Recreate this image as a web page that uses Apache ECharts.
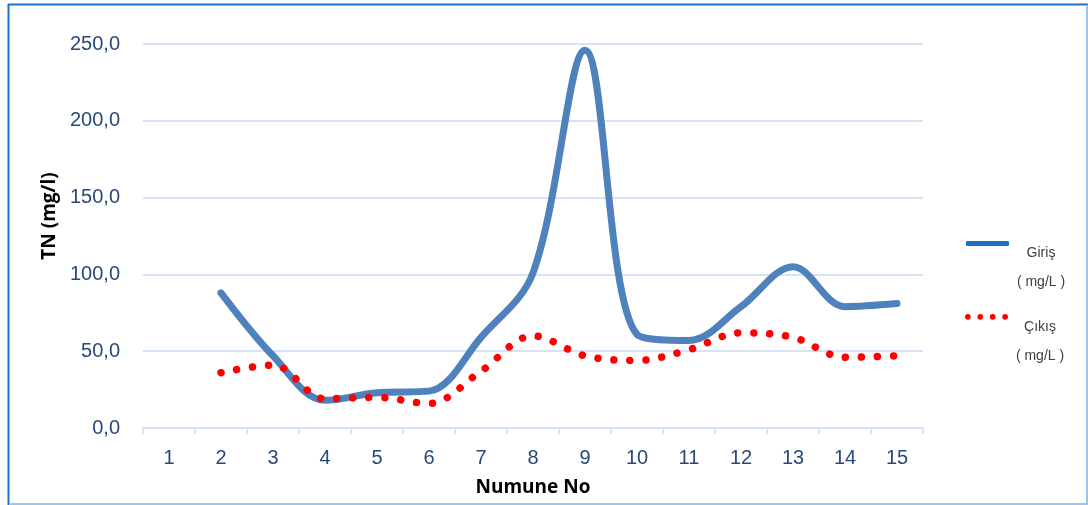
<!DOCTYPE html>
<html>
<head>
<meta charset="utf-8">
<script src="https://cdn.jsdelivr.net/npm/echarts@6/dist/echarts.min.js"></script>
<style>
  html, body { margin: 0; padding: 0; background: #ffffff; }
  #chart { width: 1088px; height: 505px; }
</style>
</head>
<body>
<div id="chart"></div>
<script>
// Sample numbers along the x axis
const categories = ['1', '2', '3', '4', '5', '6', '7', '8', '9', '10', '11', '12', '13', '14', '15'];
// Total nitrogen at the inlet (mg/L); sample 1 has no reading
const girisValues = ['-', 88, 47, 18, 23, 24, 59, 101, 246, 61, 57, 79, 105, 79, 81];
// Total nitrogen at the outlet (mg/L)
const cikisValues = ['-', 36, 41, 19, 20, 16, 37, 60, 47, 44, 51, 62, 59, 46, 47];
// Value axis ticks
const yTicks = { min: 0, max: 250, interval: 50 };

const labelColor = '#27497a';
const gridColor = '#d6e3f4';
const baseFont = '"Liberation Sans", Arial, sans-serif';

const chart = echarts.init(document.getElementById('chart'), null, { renderer: 'canvas' });

function legendText(name) {
  return '{a|' + name + '}\n{a|( mg/L )}';
}

const legendCommon = {
  orient: 'vertical',
  itemWidth: 43,
  itemGap: 0,
  selectedMode: false,
  formatter: legendText,
  textStyle: {
    padding: [49, 0, 0, 0],
    rich: {
      a: { fontFamily: baseFont, fontSize: 14, color: '#404040', lineHeight: 29, width: 54, align: 'center' }
    }
  }
};

chart.setOption({
  animation: false,
  backgroundColor: '#ffffff',
  grid: { left: 143, top: 44, width: 780, height: 384, containLabel: false },
  legend: [
    Object.assign({}, legendCommon, {
      left: 961, top: 236,
      itemHeight: 5,
      data: [{ name: 'Giriş', icon: 'roundRect', itemStyle: { color: '#1e6fc1' } }]
    }),
    Object.assign({}, legendCommon, {
      left: 960, top: 309,
      itemHeight: 6,
      data: [{
        name: 'Çıkış',
        icon: 'path://M0,3a3,3 0 1,0 6,0a3,3 0 1,0 -6,0M13,3a3,3 0 1,0 6,0a3,3 0 1,0 -6,0M26,3a3,3 0 1,0 6,0a3,3 0 1,0 -6,0M39,3a3,3 0 1,0 6,0a3,3 0 1,0 -6,0',
        itemStyle: { color: '#ff0000' }
      }]
    })
  ],
  xAxis: {
    type: 'category',
    data: categories,
    boundaryGap: true,
    name: 'Numune No',
    nameLocation: 'middle',
    nameGap: 50,
    nameTextStyle: { fontFamily: '"Open Sans", sans-serif', fontWeight: 'bold', fontSize: 19, color: '#000000' },
    axisLine: { show: true, lineStyle: { color: gridColor, width: 2 } },
    axisTick: { show: true, length: 6, alignWithLabel: false, lineStyle: { color: gridColor, width: 2 } },
    axisLabel: { fontFamily: baseFont, fontSize: 20, color: labelColor, margin: 20 },
    splitLine: { show: false }
  },
  yAxis: {
    type: 'value',
    min: yTicks.min,
    max: yTicks.max,
    interval: yTicks.interval,
    name: 'TN (mg/l)',
    nameLocation: 'middle',
    nameGap: 84,
    nameTextStyle: { fontFamily: '"Open Sans", sans-serif', fontWeight: 'bold', fontSize: 19, color: '#000000', padding: [0, 0, 0, 40] },
    axisLine: { show: false },
    axisTick: { show: false },
    axisLabel: {
      fontFamily: baseFont, fontSize: 20, color: labelColor, margin: 23,
      formatter: v => v.toFixed(1).replace('.', ',')
    },
    splitLine: { show: true, lineStyle: { color: gridColor, width: 2 } }
  },
  series: [
    {
      name: 'Giriş',
      type: 'line',
      data: girisValues,
      smooth: 0.35,
      showSymbol: false,
      symbol: 'none',
      lineStyle: { color: '#4f81bd', width: 7, cap: 'round', join: 'round' },
      itemStyle: { color: '#4f81bd' },
      z: 2
    },
    {
      name: 'Çıkış',
      type: 'line',
      data: cikisValues,
      smooth: 0.35,
      showSymbol: false,
      symbol: 'none',
      lineStyle: { color: '#ff0000', width: 7.5, type: [0.01, 16], cap: 'round' },
      itemStyle: { color: '#ff0000' },
      z: 3
    }
  ],
  graphic: [
    // chart frame: darker top/left edges, lighter right/bottom edges
    { type: 'line', shape: { x1: 8, y1: 4.5, x2: 1088, y2: 4.5 }, style: { stroke: '#1f72c4', lineWidth: 2 }, silent: true },
    { type: 'line', shape: { x1: 8.5, y1: 4, x2: 8.5, y2: 505 }, style: { stroke: '#1f72c4', lineWidth: 2 }, silent: true },
    { type: 'line', shape: { x1: 1087, y1: 5, x2: 1087, y2: 505 }, style: { stroke: '#9dc3e6', lineWidth: 2 }, silent: true },
    { type: 'line', shape: { x1: 9, y1: 504, x2: 1088, y2: 504 }, style: { stroke: '#9dc3e6', lineWidth: 2 }, silent: true }
  ]
});
</script>
</body>
</html>
